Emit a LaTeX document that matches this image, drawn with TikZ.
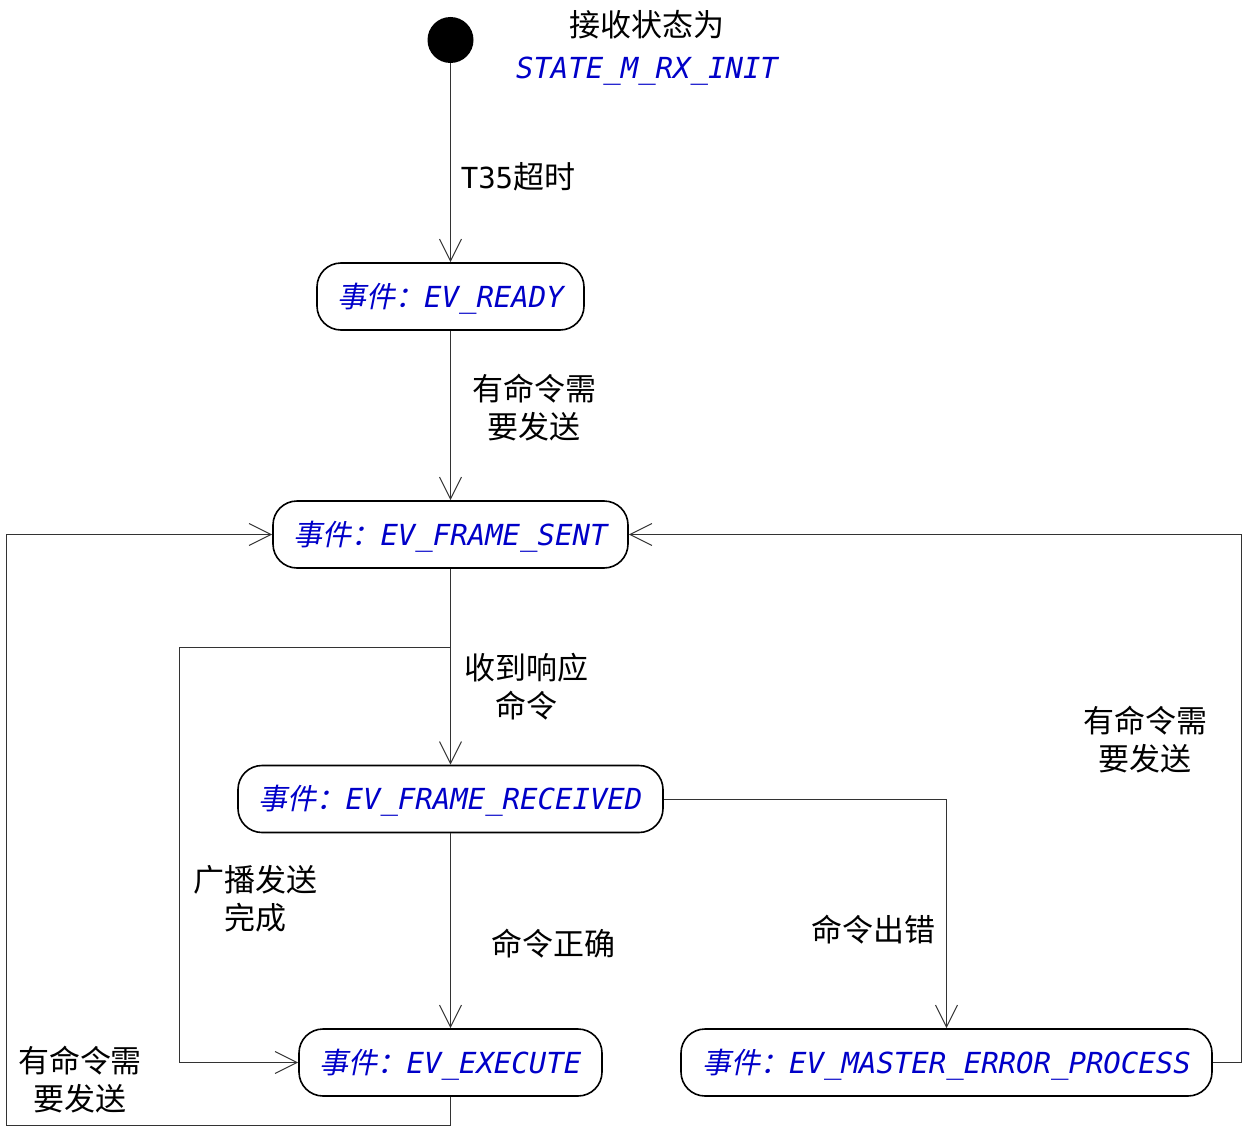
\documentclass[tikz,border=0pt]{standalone}
\usepackage{fontspec}
\setmonofont{DejaVu Sans Mono}
\newfontfamily\cjk{Noto Sans CJK SC}
\newfontfamily\cjkit{Noto Sans CJK SC}[FakeSlant=0.2]
\usetikzlibrary{arrows.meta}
\definecolor{evblue}{RGB}{0,0,200}
\newcommand\ev[1]{{\cjkit 事件：}{\ttfamily\itshape #1}}
\tikzset{
  evstate/.style={draw, line width=1.6pt, rounded corners=24pt, minimum height=67pt, inner sep=0pt, text height=24pt, text depth=3pt, text=evblue, font=\fontsize{29}{34}\selectfont},
  tr/.style={line width=1pt, draw=black!80, -{Straight Barb[length=22pt,width=22pt,line width=1pt]}},
  lbl/.style={align=center, inner sep=0pt, font=\cjk\fontsize{31}{38}\selectfont},
}

\begin{document}
\begin{tikzpicture}[x=1pt, y=-1pt]
  \useasboundingbox (0,0) rectangle (1243,1132);
  \node[circle, fill=black, minimum size=46pt, inner sep=0pt] (init) at (450.5,40) {};
  \node[lbl] (initlbl) at (647,25) {接收状态为};
  \node[inner sep=0pt, text height=24pt, text depth=3pt, text=evblue, font=\fontsize{29}{34}\selectfont\ttfamily\itshape] (initst) at (647,68) {STATE\_M\_RX\_INIT};

  \node[evstate, minimum width=267pt] (ready) at (450.5,296.5) {\ev{EV\_READY}};
  \node[evstate, minimum width=355pt] (sent) at (450.5,534.5) {\ev{EV\_FRAME\_SENT}};
  \node[evstate, minimum width=425pt] (recv) at (450.5,799) {\ev{EV\_FRAME\_RECEIVED}};
  \node[evstate, minimum width=303pt] (exec) at (450.5,1062.5) {\ev{EV\_EXECUTE}};
  \node[evstate, minimum width=531pt] (err) at (946.5,1062.5) {\ev{EV\_MASTER\_ERROR\_PROCESS}};

  \coordinate (bc) at (450.5,647);
  \coordinate (bl) at (179,1062.5);
  \coordinate (rr) at (1241.5,1062.5);
  \coordinate (ll) at (6,1125);

  \draw[tr] (init.south) -- (ready.north);
  \draw[tr] (ready.south) -- (sent.north);
  \draw[tr] (sent.south) -- (recv.north);
  \draw[tr] (bc) -| (bl) -- (exec.west);
  \draw[tr] (recv.south) -- (exec.north);
  \draw[tr] (recv.east) -| (err.north);
  \draw[tr] (err.east) -- (rr) |- (sent.east);
  \draw[tr] (exec.south) |- (ll) |- (sent.west);

  \node[lbl] (t35) at (518,177) {{\ttfamily\fontsize{29}{34}\selectfont T35}超时};
  \node[lbl] (l1) at (534,408) {有命令需\\要发送};
  \node[lbl] (l2) at (526,687) {收到响应\\命令};
  \node[lbl] (l3) at (255,899) {广播发送\\完成};
  \node[lbl] (l4) at (553,944) {命令正确};
  \node[lbl] (l5) at (873,930) {命令出错};
  \node[lbl] (l6) at (1145,740) {有命令需\\要发送};
  \node[lbl] (l7) at (80,1080) {有命令需\\要发送};
\end{tikzpicture}
\end{document}
